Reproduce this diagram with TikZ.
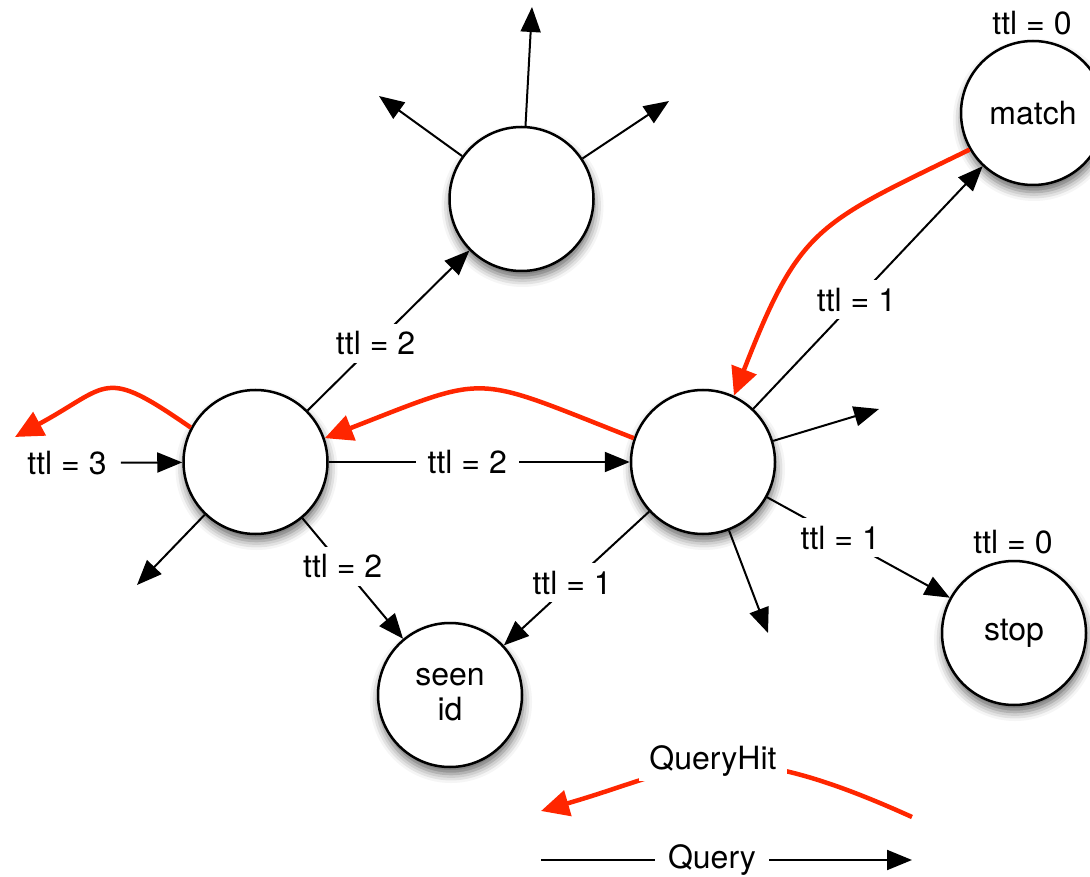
\documentclass[tikz,border=0pt]{standalone}
\usepackage{fontspec}
\setmainfont{TeX Gyre Heros}
\usetikzlibrary{arrows.meta,shadows.blur,backgrounds}
\definecolor{hitred}{RGB}{255,38,0}
\begin{document}
\begin{tikzpicture}[x=1pt,y=-1pt,
  every node/.style={font=\fontsize{32}{35}\selectfont},
  peer/.style={circle, draw=black, line width=2.5pt, fill=white,
    minimum size=144pt, inner sep=0pt, align=center,
    blur shadow={shadow xshift=1pt, shadow yshift=-7pt,
      shadow blur radius=9pt, shadow opacity=60}},
  query/.style={line width=2pt, -{Triangle[length=25pt,width=20pt]}},
  hit/.style={draw=hitred, line width=4.5pt,
    -{Triangle[length=28pt,width=26pt]}, fill=none},
  lbl/.style={fill=white, inner xsep=12pt, inner ysep=8pt}]
\useasboundingbox (0,0) rectangle (1090,877);

% peers
\node[peer] (top)   at (521.5,199) {};
\node[peer] (match) at (1033,113)  {match};
\node[peer] (left)  at (255.5,462) {};
\node[peer] (mid)   at (703,462)   {};
\node[peer] (seen)  at (450,695)   {seen\\id};
\node[peer] (stop)  at (1014,633)  {stop};

% hop counters at the end points
\node (ttlmatch) at (1032,23)  {ttl = 0};
\node (ttlstop)  at (1013,542) {ttl = 0};
\node[inner xsep=14pt] (src) at (67,463) {ttl = 3};

% free ends of the fan-out arrows
\coordinate (tU) at (532,7);
\coordinate (tL) at (379,96);
\coordinate (tR) at (669,101);
\coordinate (mR) at (879,409);
\coordinate (mD) at (768,633);
\coordinate (lD) at (137,585);
\coordinate (hitout) at (15,437);

% query flooding
\draw[query] (src) -- (left);
\draw[query] (left) -- node[lbl,pos=0.42] {ttl = 2} (top);
\draw[query] (left) -- node[lbl,pos=0.46] {ttl = 2} (mid);
\draw[query] (left) -- node[lbl,pos=0.40] {ttl = 2} (seen);
\draw[query] (left) -- (lD);
\draw[query] (top) -- (tU);
\draw[query] (top) -- (tL);
\draw[query] (top) -- (tR);
\draw[query] (mid) -- node[lbl,pos=0.45] {ttl = 1} (match);
\draw[query] (mid) -- node[lbl,pos=0.53] {ttl = 1} (seen);
\draw[query] (mid) -- node[lbl,pos=0.40] {ttl = 1} (stop);
\draw[query] (mid) -- (mR);
\draw[query] (mid) -- (mD);

% query hit travelling back along the reverse path
\draw[hit] (match.210) .. controls (817,224) and (800,226) .. (mid.65);
\draw[hit] (mid.161) .. controls (470,374) and (492,373) .. (left.19);
\draw[hit] (left.152) .. controls (102,366) and (111,385) .. (hitout);

% legend
\coordinate (qa) at (541,860);
\coordinate (qb) at (912,860);
\node[inner xsep=13pt] (Q) at (712,860) {Query};
\draw[line width=2pt] (qa) -- (Q);
\draw[query] (Q) -- (qb);

\coordinate (ha) at (912,817);
\coordinate (hb) at (541,811);
\node[fill=white, inner xsep=10pt, inner ysep=5pt] (QH) at (713,761) {QueryHit};
\begin{scope}[on background layer]
\draw[hit] (ha) .. controls (720,730) and (690,768) .. (hb);
\end{scope}
\end{tikzpicture}
\end{document}
